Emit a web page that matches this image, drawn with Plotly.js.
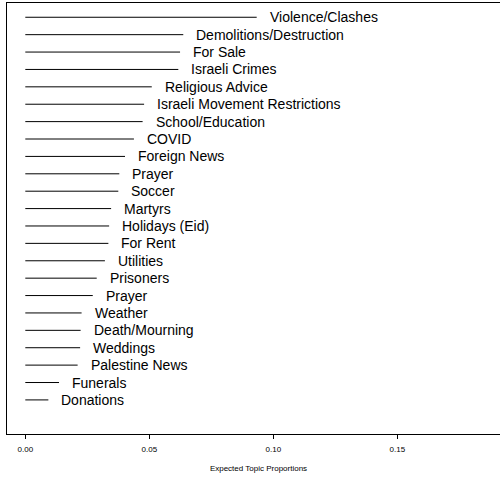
<!DOCTYPE html>
<html>
<head>
<meta charset="utf-8">
<script src="https://cdn.plot.ly/plotly-3.0.1.min.js"></script>
<style>
html, body { margin: 0; padding: 0; overflow: hidden; background: #fff; }
#chart { width: 510px; height: 477px; }
</style>
</head>
<body>
<div id="chart"></div>
<script>
// Topics, top to bottom
const topics = [
  "Violence/Clashes", "Demolitions/Destruction", "For Sale", "Israeli Crimes",
  "Religious Advice", "Israeli Movement Restrictions", "School/Education", "COVID",
  "Foreign News", "Prayer", "Soccer", "Martyrs", "Holidays (Eid)", "For Rent",
  "Utilities", "Prisoners", "Prayer", "Weather", "Death/Mourning", "Weddings",
  "Palestine News", "Funerals", "Donations"
];
// Expected topic proportions
const proportions = [
  0.0933, 0.0637, 0.0624, 0.0617,
  0.0510, 0.0479, 0.0473, 0.0438,
  0.0402, 0.0379, 0.0375, 0.0346, 0.0338, 0.0335,
  0.0321, 0.0288, 0.0272, 0.0227, 0.0223, 0.0221,
  0.0211, 0.0136, 0.0093
];
const tickValues = [0, 0.05, 0.10, 0.15];
const tickLabels = ["0.00", "0.05", "0.10", "0.15"];
const xTitle = "Expected Topic Proportions";

const n = topics.length;
const xs = [], ys = [];
const annotations = [];
topics.forEach((t, i) => {
  const pos = n - i;
  xs.push(0, proportions[i], null);
  ys.push(pos, pos, null);
  annotations.push({
    x: proportions[i], y: pos, xref: 'x', yref: 'y',
    text: t, showarrow: false, xanchor: 'left', yanchor: 'middle',
    xshift: 11,
    font: { family: 'Liberation Sans, Arial, sans-serif', size: 14, color: '#000' }
  });
});

const trace = {
  type: 'scatter', mode: 'lines', x: xs, y: ys,
  line: { color: '#000', width: 1 }, hoverinfo: 'skip', showlegend: false
};

const layout = {
  width: 510, height: 477,
  margin: { l: 7, r: 0, t: 3, b: 43 },
  paper_bgcolor: '#fff', plot_bgcolor: '#fff',
  showlegend: false,
  xaxis: {
    range: [-0.00738, 0.19544],
    showgrid: false, zeroline: false,
    showline: true, mirror: true, linecolor: '#000', linewidth: 1,
    ticks: 'outside', ticklen: 4, tickwidth: 1, tickcolor: '#000',
    ticklabelstandoff: 3,
    tickvals: tickValues, ticktext: tickLabels,
    tickfont: { family: 'Liberation Sans, Arial, sans-serif', size: 8, color: '#000' },
    title: { text: xTitle, standoff: 12,
             font: { family: 'Liberation Sans, Arial, sans-serif', size: 8, color: '#000' } }
  },
  yaxis: {
    range: [-0.96, 23.82],
    showgrid: false, zeroline: false,
    showline: true, mirror: true, linecolor: '#000', linewidth: 1,
    showticklabels: false, ticks: ''
  },
  annotations: annotations
};

Plotly.newPlot('chart', [trace], layout, { displayModeBar: false, staticPlot: true });
</script>
</body>
</html>
